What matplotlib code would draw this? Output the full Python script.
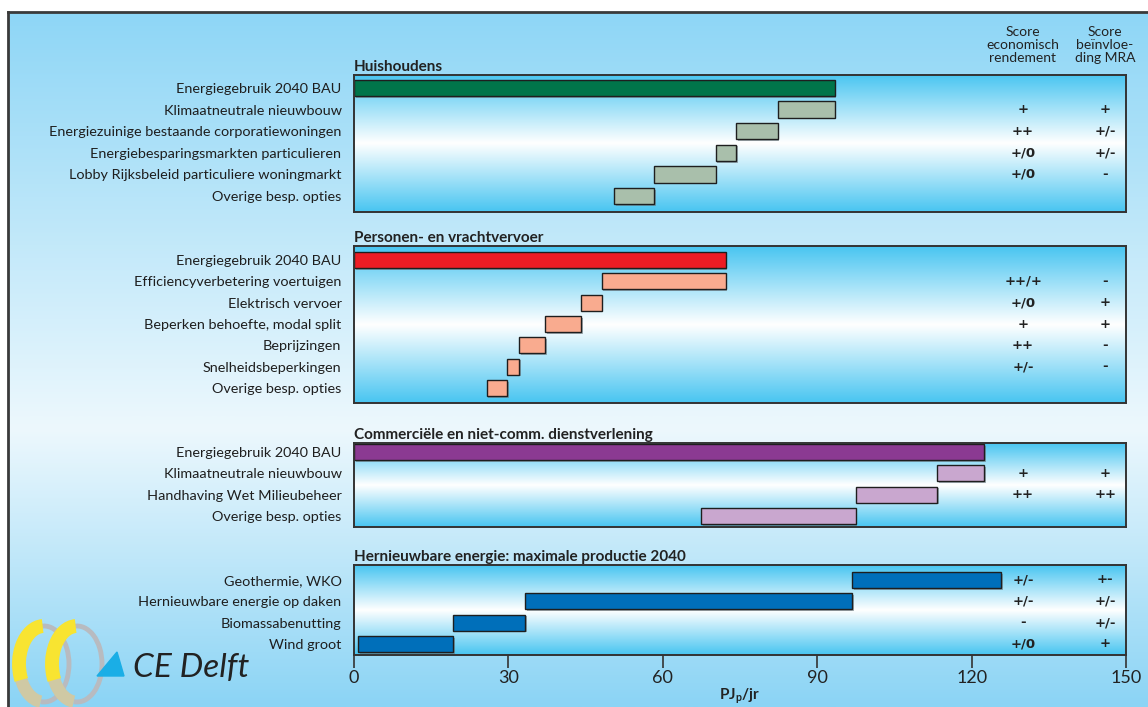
import numpy as np
import matplotlib
matplotlib.use('Agg')
import matplotlib.pyplot as plt
from matplotlib.colors import LinearSegmentedColormap
from matplotlib.patches import Arc, Polygon
import matplotlib.patheffects as pe

plt.rcParams['font.family'] = ['Lato', 'DejaVu Sans']

# %% data
hh_title = 'Huishoudens'
hh_labels = ['Energiegebruik 2040 BAU', 'Klimaatneutrale nieuwbouw',
             'Energiezuinige bestaande corporatiewoningen',
             'Energiebesparingsmarkten particulieren',
             'Lobby Rijksbeleid particuliere woningmarkt', 'Overige besp. opties']
hh_bau = 93.4
hh_savings = [11.1, 8.0, 4.0, 12.0, 7.8]
hh_econ = ['+', '++', '+/0', '+/0', '']
hh_mra = ['+', '+/-', '+/-', '-', '']

vv_title = 'Personen- en vrachtvervoer'
vv_labels = ['Energiegebruik 2040 BAU', 'Efficiencyverbetering voertuigen',
             'Elektrisch vervoer', 'Beperken behoefte, modal split',
             'Beprijzingen', 'Snelheidsbeperkingen', 'Overige besp. opties']
vv_bau = 72.2
vv_savings = [24.1, 3.9, 7.0, 5.1, 2.4, 3.9]
vv_econ = ['++/+', '+/0', '+', '++', '+/-', '']
vv_mra = ['-', '+', '+', '-', '-', '']

dv_title = 'Commerciële en niet-comm. dienstverlening'
dv_labels = ['Energiegebruik 2040 BAU', 'Klimaatneutrale nieuwbouw',
             'Handhaving Wet Milieubeheer', 'Overige besp. opties']
dv_bau = 122.4
dv_savings = [9.1, 15.8, 30.1]
dv_econ = ['+', '++', '']
dv_mra = ['+', '++', '']

# renewables stack upwards, listed from the bottom row (Wind groot) up
he_title = 'Hernieuwbare energie: maximale productie 2040'
he_labels = ['Wind groot', 'Biomassabenutting', 'Hernieuwbare energie op daken',
             'Geothermie, WKO']
he_start = 0.8
he_values = [18.5, 14.0, 63.5, 28.9]
he_econ = ['+/0', '-', '+/-', '+/-']
he_mra = ['+', '+/-', '+/-', '+-']

xticks = [0, 30, 60, 90, 120, 150]

# %% layout helpers (pixels)
W, H = 1148, 707


def px_box(x0, y0, x1, y1):
    return [x0 / W, 1 - y1 / H, (x1 - x0) / W, (y1 - y0) / H]


fig = plt.figure(figsize=(W / 100, H / 100), dpi=100)

# outer background
bg = fig.add_axes([0, 0, 1, 1], zorder=-10)
bg.set_xlim(0, W)
bg.set_ylim(H, 0)
bg.axis('off')
bg_cmap = LinearSegmentedColormap.from_list(
    'bg', [(0, '#8ed6f6'), (0.6, '#edf8fd'), (1, '#8bd4f5')])
bg.imshow(np.linspace(0, 1, 256)[:, None], cmap=bg_cmap, aspect='auto',
          extent=(8, W, H, 12), interpolation='bilinear')
bg.plot([8, 8], [H, 12], color='#3a3a3a', lw=2, solid_capstyle='projecting')
bg.plot([8, W], [12, 12], color='#3a3a3a', lw=2, solid_capstyle='projecting')

panel_cmap = LinearSegmentedColormap.from_list(
    'panel', [(0, '#48c5f1'), (0.5, '#ffffff'), (1, '#48c5f1')])

shadow = [pe.SimplePatchShadow(offset=(1.2, -1.2), shadow_rgbFace='#6b7a80', alpha=0.6),
          pe.Normal()]
score_font = dict(family='DejaVu Sans', fontsize=9.5, fontweight='bold',
                  color='#222222', ha='center', va='center')


def waterfall(bau, savings):
    ends = bau - np.concatenate([[0], np.cumsum(savings)])
    lefts = np.concatenate([[0], ends[1:]])
    widths = np.concatenate([[bau], savings])
    return lefts, widths


def panel(box, title, labels, lefts, widths, colors, econ, mra, pads, first_score):
    ax = fig.add_axes(px_box(*box))
    n = len(labels)
    y = np.arange(n)
    ax.imshow(np.linspace(0, 1, 256)[:, None], cmap=panel_cmap, aspect='auto',
              extent=(0, 1, 0, 1), transform=ax.transAxes, zorder=0,
              interpolation='bilinear')
    bars = ax.barh(y, widths, left=lefts, height=0.75, color=colors,
                   edgecolor='#1e1e1e', linewidth=1.0, zorder=2)
    for b in bars:
        b.set_path_effects(shadow)
    for i, (s1, s2) in enumerate(zip(econ, mra)):
        ax.text(130, i + first_score, s1, **score_font)
        ax.text(146, i + first_score, s2, **score_font)
    ax.set_xlim(0, 150)
    ax.set_ylim(n - 1 + pads[1], -pads[0])
    ax.set_yticks(y, labels)
    ax.tick_params(axis='y', length=0, pad=9, labelsize=10.4, labelcolor='#1e1e1e')
    ax.set_xticks([])
    for s in ax.spines.values():
        s.set_color('#333333')
        s.set_linewidth(1.4)
    ax.set_title(title, loc='left', fontsize=11, fontweight='bold',
                 color='#222222', pad=3, x=0.0)
    return ax


# %% households
l, w = waterfall(hh_bau, hh_savings)
panel((354, 75, 1126, 212), hh_title, hh_labels, l, w,
      ['#00754a'] + ['#a9bfab'] * len(hh_savings), hh_econ, hh_mra, (0.6, 0.74), 1)

# %% transport
l, w = waterfall(vv_bau, vv_savings)
panel((354, 246, 1126, 403), vv_title, vv_labels, l, w,
      ['#ed1c24'] + ['#f9ab8f'] * len(vv_savings), vv_econ, vv_mra, (0.66, 0.7), 1)

# %% services
l, w = waterfall(dv_bau, dv_savings)
panel((354, 443, 1126, 527), dv_title, dv_labels, l, w,
      ['#8b3a92'] + ['#c9a7cf'] * len(dv_savings), dv_econ, dv_mra, (0.42, 0.52), 1)

# %% renewables
he_left = he_start + np.concatenate([[0], np.cumsum(he_values)[:-1]])
ax = panel((354, 565, 1126, 655), he_title, he_labels[::-1], he_left[::-1],
           he_values[::-1], ['#006fba'] * len(he_values), he_econ[::-1],
           he_mra[::-1], (0.7, 0.52), 0)
ax.set_xticks(xticks)
ax.tick_params(axis='x', direction='out', length=9, width=1.2, color='#333333',
               labelsize=13, labelcolor='#222222', pad=2)
ax.set_xlabel('PJ$_\\mathregular{p}$/jr', fontsize=11, fontweight='bold',
              color='#222222', labelpad=0)

# %% score headers
fig.text(1023 / W, 1 - 45 / H, 'Score\neconomisch\nrendement', ha='center',
         va='center', fontsize=10, color='#222222', linespacing=1.05)
fig.text(1105 / W, 1 - 45 / H, 'Score\nbeïnvloe-\nding MRA', ha='center',
         va='center', fontsize=10, color='#222222', linespacing=1.05)

# %% logo (y axis runs downwards here, so arc angles are mirrored)
lg = fig.add_axes(px_box(0, 600, 280, 707))
lg.set_xlim(0, 280)
lg.set_ylim(707, 600)
lg.axis('off')
for cx in (44, 77):
    lg.add_patch(Arc((cx, 664), 50, 76, theta1=-95, theta2=95,
                     color='#b8bbc0', lw=3.5))
    lg.add_patch(Arc((cx, 664), 50, 76, theta1=95, theta2=150,
                     color='#cfc9a4', lw=9))
    lg.add_patch(Arc((cx, 664), 50, 76, theta1=145, theta2=268,
                     color='#f8e431', lw=10))
lg.add_patch(Polygon([(97, 676), (124, 676), (117, 652)], closed=True,
                     color='#1aaee6'))
lg.text(133, 677, 'CE Delft', fontsize=24, style='italic', va='baseline',
        ha='left', color='#222222')

fig.savefig('out.png', dpi=100)
